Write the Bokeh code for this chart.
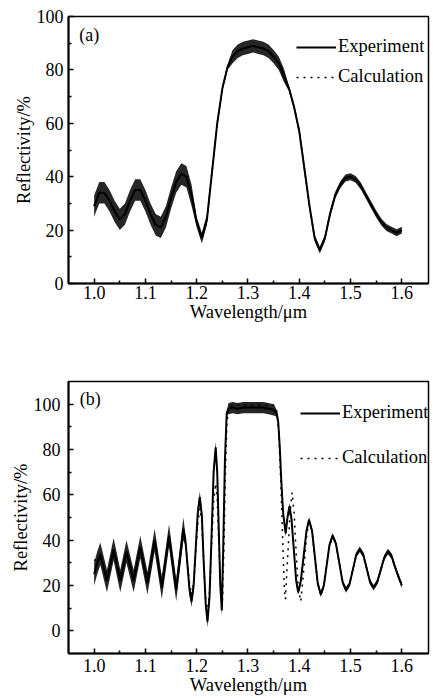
from bokeh.plotting import figure
from bokeh.layouts import column
from bokeh.models import (FixedTicker, PrintfTickFormatter, Legend, LegendItem,
                          Label, Range1d)
from bokeh.embed import file_html
from bokeh.resources import INLINE

FONT = "Liberation Serif"

# ---------------- Panel (a) data ----------------
wl_a = [1.00, 1.01, 1.02, 1.03, 1.04, 1.05, 1.06, 1.07, 1.08, 1.09,
        1.10, 1.11, 1.12, 1.13, 1.14, 1.15, 1.16, 1.17, 1.18, 1.19,
        1.20, 1.21, 1.22, 1.23, 1.24, 1.25, 1.26, 1.27, 1.28, 1.29,
        1.30, 1.31, 1.32, 1.33, 1.34, 1.35, 1.36, 1.37, 1.38, 1.39,
        1.40, 1.41, 1.42, 1.43, 1.44, 1.45, 1.46, 1.47, 1.48, 1.49,
        1.50, 1.51, 1.52, 1.53, 1.54, 1.55, 1.56, 1.57, 1.58, 1.59, 1.60]
exp_a = [29, 34, 34, 31, 27, 24, 26, 31, 35, 35,
         31, 26, 22, 21, 25, 32, 38, 41, 40, 33,
         23, 17, 24, 42, 60, 73, 81, 85, 87, 88,
         88.5, 89, 88.5, 88, 87, 85, 82.5, 78, 73, 66,
         57, 43, 29, 17, 12.5, 17, 26, 33, 37, 39.5,
         40, 39, 36.5, 33, 29.5, 26, 23, 21, 20, 19, 20]
calc_a = [29, 34, 34, 31, 27, 24, 26, 31, 35, 35,
          31, 26, 22, 21, 25, 32, 38, 41, 40, 33,
          23, 17, 24, 42, 60, 73, 81, 85, 87, 88,
          88.5, 89, 88.5, 88, 87, 85, 82.5, 78, 73, 66,
          57, 43, 29, 17, 12.5, 17, 26, 33, 37, 39.5,
          40, 39, 36.5, 33, 29.5, 26, 23, 21, 20, 19, 20]
spread_a = [4] * 20 + [2] * 3 + [1] * 4 + [2.5] * 11 + [1] * 5 + [1.3] * 18

# ---------------- Panel (b) data ----------------
wl_b = [1.000, 1.006, 1.012, 1.025, 1.038, 1.051, 1.063, 1.077, 1.090, 1.104,
        1.118, 1.132, 1.146, 1.160, 1.174, 1.178, 1.182, 1.186, 1.190, 1.194,
        1.198, 1.202, 1.206, 1.210, 1.2135, 1.2175, 1.221, 1.225, 1.229, 1.233,
        1.237, 1.240, 1.243, 1.246, 1.249, 1.252, 1.255, 1.2585, 1.262, 1.27,
        1.28, 1.29, 1.30, 1.31, 1.32, 1.33, 1.34, 1.35, 1.356, 1.359,
        1.362, 1.365, 1.3685, 1.3735, 1.377, 1.381, 1.385, 1.3895, 1.394, 1.398,
        1.403, 1.4085, 1.414, 1.419, 1.425, 1.4305, 1.436, 1.442, 1.448, 1.4535,
        1.459, 1.465, 1.4715, 1.478, 1.4845, 1.491, 1.498, 1.5045, 1.511, 1.518,
        1.525, 1.5315, 1.538, 1.545, 1.552, 1.559, 1.566, 1.573, 1.580, 1.587,
        1.594, 1.600]
exp_b = [25, 30, 34, 22, 36, 22, 35, 22, 37, 21,
         40, 19, 42, 18, 45, 40, 29, 18, 13, 20,
         36, 52, 59, 51, 31, 12, 4, 15, 42, 70,
         81, 70, 45, 20, 9, 40, 75, 96, 98, 98.5,
         98, 98.5, 98.5, 98.5, 98.5, 98.5, 98, 97.5, 96, 92,
         81, 66, 52, 43, 50, 55, 49, 35.5, 22, 17,
         22, 33, 44, 49, 44, 32.5, 21, 16, 20, 29,
         38, 42, 38.5, 30, 21.5, 18, 20.5, 27, 33.5, 36,
         33.5, 27.5, 21.5, 19, 21.5, 27, 32.5, 35, 33, 28,
         23.5, 20]
spread_b = [5] * 15 + [2.5] * 20 + [1] * 3 + [2.5] * 10 + [1.5] * 8 + [1.2] * 36

wl_bc = [1.000, 1.006, 1.012, 1.025, 1.038, 1.051, 1.063, 1.077, 1.090, 1.104,
         1.118, 1.132, 1.146, 1.160, 1.174, 1.178, 1.182, 1.186, 1.190, 1.194,
         1.198, 1.202, 1.206, 1.210, 1.2135, 1.2175, 1.221, 1.225, 1.229, 1.233,
         1.237, 1.240, 1.243, 1.246, 1.250, 1.253, 1.256, 1.259, 1.263, 1.27,
         1.29, 1.31, 1.33, 1.35, 1.356, 1.360, 1.364, 1.368, 1.371, 1.373,
         1.377, 1.382, 1.386, 1.390, 1.394, 1.398, 1.403, 1.408, 1.414, 1.419,
         1.425, 1.4305, 1.436, 1.442, 1.448, 1.4535, 1.459, 1.465, 1.4715, 1.478,
         1.4845, 1.491, 1.498, 1.5045, 1.511, 1.518, 1.525, 1.5315, 1.538, 1.545,
         1.552, 1.559, 1.566, 1.573, 1.580, 1.587, 1.594, 1.600]
calc_b = [31, 32, 32, 25, 33, 25, 34, 24, 35, 24,
          37, 22, 40, 20, 43, 39, 30, 21, 16, 21,
          34, 47, 54, 48, 31, 14, 8, 17, 38, 57,
          65, 58, 40, 22, 11, 35, 70, 92, 99, 99.5,
          99.5, 99.5, 99.5, 99.5, 97, 88, 65, 38, 18, 14,
          31, 52, 61, 52, 34, 19, 13, 25, 41, 49,
          44, 32, 21, 16, 20, 29, 37.5, 41.5, 38, 30,
          22, 18.5, 21, 27, 33, 35.5, 33, 27.5, 22, 19.5,
          21.5, 27, 32.5, 34.5, 32.5, 28, 24, 20.5]

x_major = [1.0, 1.1, 1.2, 1.3, 1.4, 1.5, 1.6]
x_minor = [1.05, 1.15, 1.25, 1.35, 1.45, 1.55]
y_major = [0, 20, 40, 60, 80, 100]
y_minor = [10, 30, 50, 70, 90]


def style_axes(p, tick_standoff_y, label_standoff_y, tick_standoff_x, label_standoff_x):
    p.grid.visible = False
    p.outline_line_color = "black"
    p.outline_line_width = 1.5
    p.background_fill_color = "white"
    p.border_fill_color = "white"
    p.xaxis.ticker = FixedTicker(ticks=x_major, minor_ticks=x_minor)
    p.yaxis.ticker = FixedTicker(ticks=y_major, minor_ticks=y_minor)
    p.xaxis.formatter = PrintfTickFormatter(format="%.1f")
    p.yaxis.formatter = PrintfTickFormatter(format="%d")
    for ax in (p.xaxis[0], p.yaxis[0]):
        ax.axis_line_color = "black"
        ax.axis_line_width = 2
        ax.major_tick_line_color = "black"
        ax.minor_tick_line_color = "black"
        ax.major_tick_line_width = 1.5
        ax.minor_tick_line_width = 1.5
        ax.major_tick_in = 5
        ax.major_tick_out = 0
        ax.minor_tick_in = 3
        ax.minor_tick_out = 0
        ax.major_label_text_font = FONT
        ax.major_label_text_font_size = "18px"
        ax.major_label_text_color = "black"
        ax.axis_label_text_font = FONT
        ax.axis_label_text_font_size = "18.5px"
        ax.axis_label_text_font_style = "normal"
        ax.axis_label_text_color = "black"
    p.xaxis.axis_label = "Wavelength/\u03bcm"
    p.yaxis.axis_label = "Reflectivity/%"
    p.yaxis.major_label_standoff = tick_standoff_y
    p.yaxis.axis_label_standoff = label_standoff_y
    p.xaxis.major_label_standoff = tick_standoff_x
    p.xaxis.axis_label_standoff = label_standoff_x


def panel(wl, exp, spread, wlc, calc, tag, height, yr, borders, legend_loc,
          legend_spacing, tag_pos, standoffs):
    left, right, top, bottom = borders
    p = figure(width=433, height=height, x_range=Range1d(0.95, 1.652),
               y_range=Range1d(*yr), output_backend="svg", toolbar_location=None,
               min_border_left=left, min_border_right=right,
               min_border_top=top, min_border_bottom=bottom)
    style_axes(p, *standoffs)
    lo = [r - s for r, s in zip(exp, spread)]
    hi = [r + s for r, s in zip(exp, spread)]
    p.varea(x=wl, y1=lo, y2=hi, fill_color="black", fill_alpha=0.85)
    r_exp = p.line(wl, exp, line_color="black", line_width=2)
    r_calc = p.line(wlc, calc, line_color="black", line_width=1.5, line_dash="2 5")
    legend = Legend(items=[LegendItem(label="Experiment", renderers=[r_exp]),
                           LegendItem(label="Calculation", renderers=[r_calc])],
                    location=legend_loc, border_line_color=None,
                    background_fill_alpha=0, padding=0, margin=0,
                    glyph_width=40, glyph_height=20, label_height=20,
                    label_standoff=2, spacing=legend_spacing,
                    label_text_font=FONT, label_text_font_size="18.5px",
                    label_text_color="black")
    p.add_layout(legend)
    p.add_layout(Label(x=tag_pos[0], y=tag_pos[1], text=tag, text_font=FONT,
                       text_font_size="18px", text_color="black",
                       text_baseline="middle"))
    return p


pa = panel(wl_a, exp_a, spread_a, wl_a, calc_a, "(a)", 340, (0, 100),
           (68, 5, 16, 57), (228, 196), 9, (0.971, 93), (5, 0, 2, 0))
pb = panel(wl_b, exp_b, spread_b, wl_bc, calc_b, "(b)", 358, (-10, 110),
           (61, 1, 41, 45), (232, 185), 24, (0.972, 102.3), (8, 0, 5, 0))

layout = column(pa, pb, spacing=0)
open("out.html", "w").write(file_html(layout, INLINE))
